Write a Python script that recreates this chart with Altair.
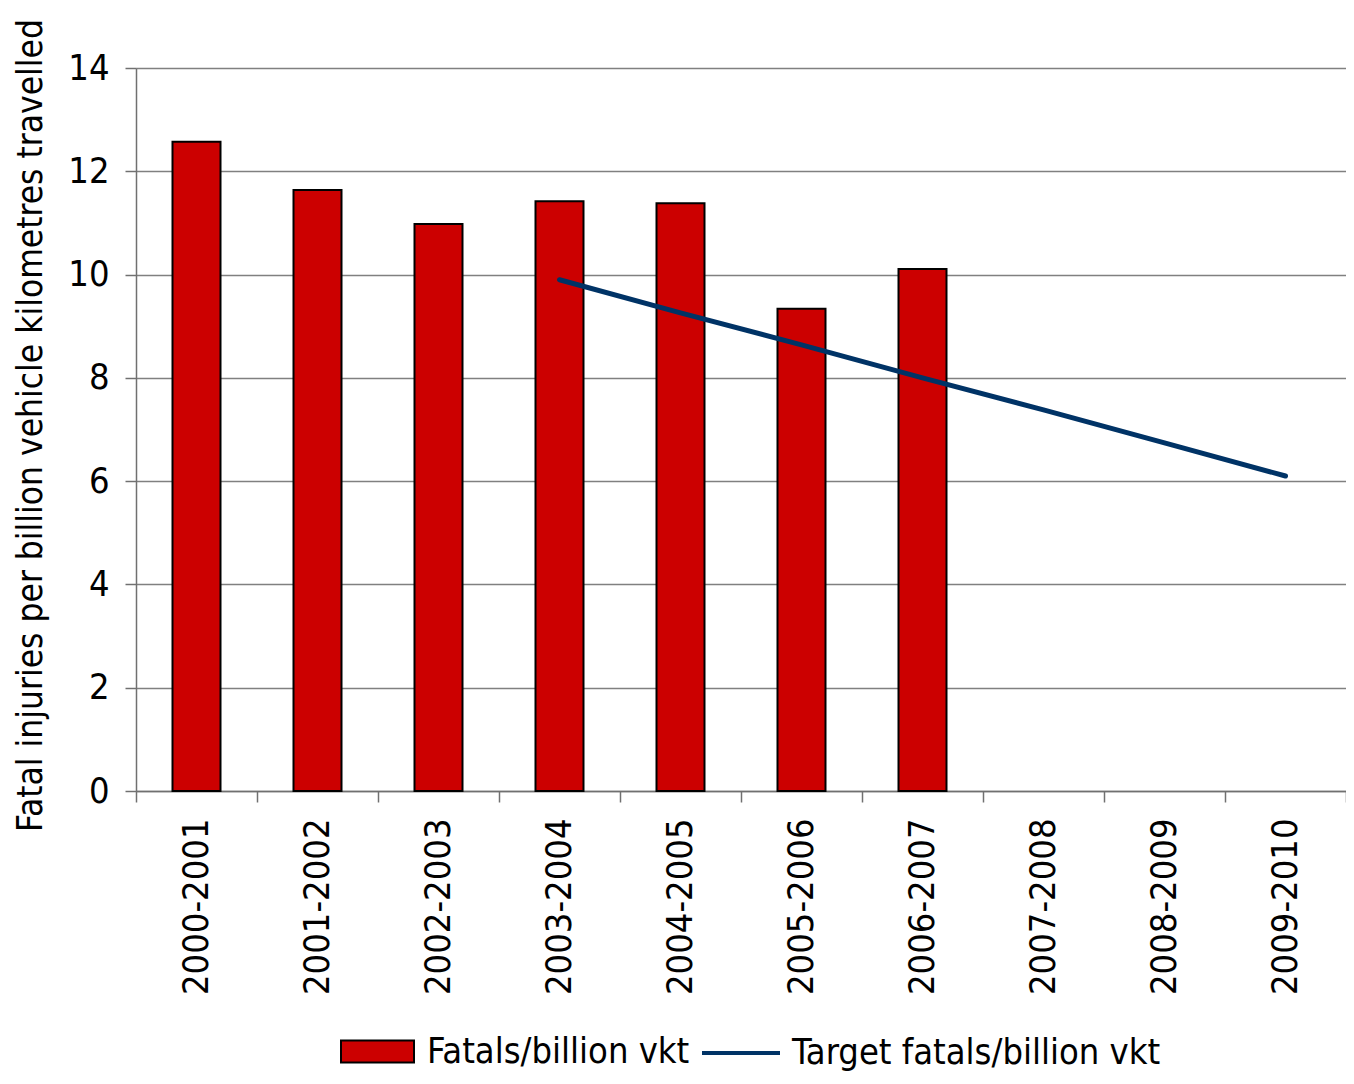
import altair as alt
import pandas as pd

periods = ["2000-2001", "2001-2002", "2002-2003", "2003-2004", "2004-2005",
           "2005-2006", "2006-2007", "2007-2008", "2008-2009", "2009-2010"]
fatals = [12.57, 11.64, 10.98, 11.42, 11.38, 9.34, 10.11, None, None, None]
target = [None, None, None, 9.90, 9.26, 8.64, 8.00, 7.38, 6.74, 6.10]

FONT = "DejaVu Sans Condensed, DejaVu Sans"

bar_df = pd.DataFrame({"period": periods, "value": fatals, "series": "Fatals/billion vkt"}).dropna()
line_df = pd.DataFrame({"period": periods, "value": target, "series": "Target fatals/billion vkt"}).dropna()

x_enc = alt.X(
    "period:N", sort=periods, title=None,
    scale=alt.Scale(domain=periods, paddingInner=0, paddingOuter=0),
    axis=alt.Axis(labelAngle=-90, labelAlign="right", labelBaseline="middle",
                  labelFontSize=36, labelFont=FONT, labelColor="black",
                  labelPadding=16, tickBand="extent", tickSize=11,
                  tickColor="#707070", tickWidth=1.5, domainColor="#707070",
                  domainWidth=1.5, grid=False, labelOverlap=False, labelLimit=0),
)
y_enc = alt.Y(
    "value:Q", scale=alt.Scale(domain=[0, 14], nice=False),
    title="Fatal injuries per billion vehicle kilometres travelled",
    axis=alt.Axis(values=[0, 2, 4, 6, 8, 10, 12, 14], labelFontSize=36, labelFont=FONT,
                  labelColor="black", labelPadding=16, tickSize=11,
                  tickColor="#707070", tickWidth=1.5, domainColor="#707070",
                  domainWidth=1.5, grid=True, gridColor="#808080", gridWidth=1.5,
                  titleFont=FONT, titleFontSize=35, titleFontWeight="normal",
                  titleColor="black", titleAngle=-90, titleX=-106, titleY=357,
                  titleAlign="center", titleBaseline="middle", titleLimit=0),
)

bars = alt.Chart(bar_df).mark_bar(stroke="black", strokeWidth=2, size=48).encode(
    x=x_enc, y=y_enc,
    fill=alt.Fill("series:N", title=None,
                  scale=alt.Scale(domain=["Fatals/billion vkt"], range=["#CC0000"]),
                  legend=alt.Legend(orient="none", legendX=204, legendY=946,
                                    symbolType="M-1,-0.3L1,-0.3L1,0.3L-1,0.3Z",
                                    symbolSize=5329, symbolStrokeColor="black",
                                    symbolStrokeWidth=2, symbolOpacity=1,
                                    labelFontSize=36, labelFont=FONT, labelColor="black",
                                    labelOffset=12, labelLimit=0)),
)

line = alt.Chart(line_df).mark_line(strokeWidth=5, strokeCap="round").encode(
    x=x_enc, y=y_enc,
    stroke=alt.Stroke("series:N", title=None,
                      scale=alt.Scale(domain=["Target fatals/billion vkt"], range=["#003366"]),
                      legend=alt.Legend(orient="none", legendX=564, legendY=944,
                                        symbolType="stroke", symbolSize=6084,
                                        symbolStrokeWidth=4,
                                        labelFontSize=36, labelFont=FONT, labelColor="black",
                                        labelOffset=10, labelLimit=0)),
)

chart = alt.layer(bars, line).resolve_scale(fill="independent", stroke="independent").properties(
    width=1210, height=723,
    autosize=alt.AutoSizeParams(type="none"),
    padding={"left": 128, "top": 60, "right": 0, "bottom": 284},
).configure_view(stroke=None).configure(background="white")

chart.save("out.html", embed_options={"renderer": "svg", "actions": False})
